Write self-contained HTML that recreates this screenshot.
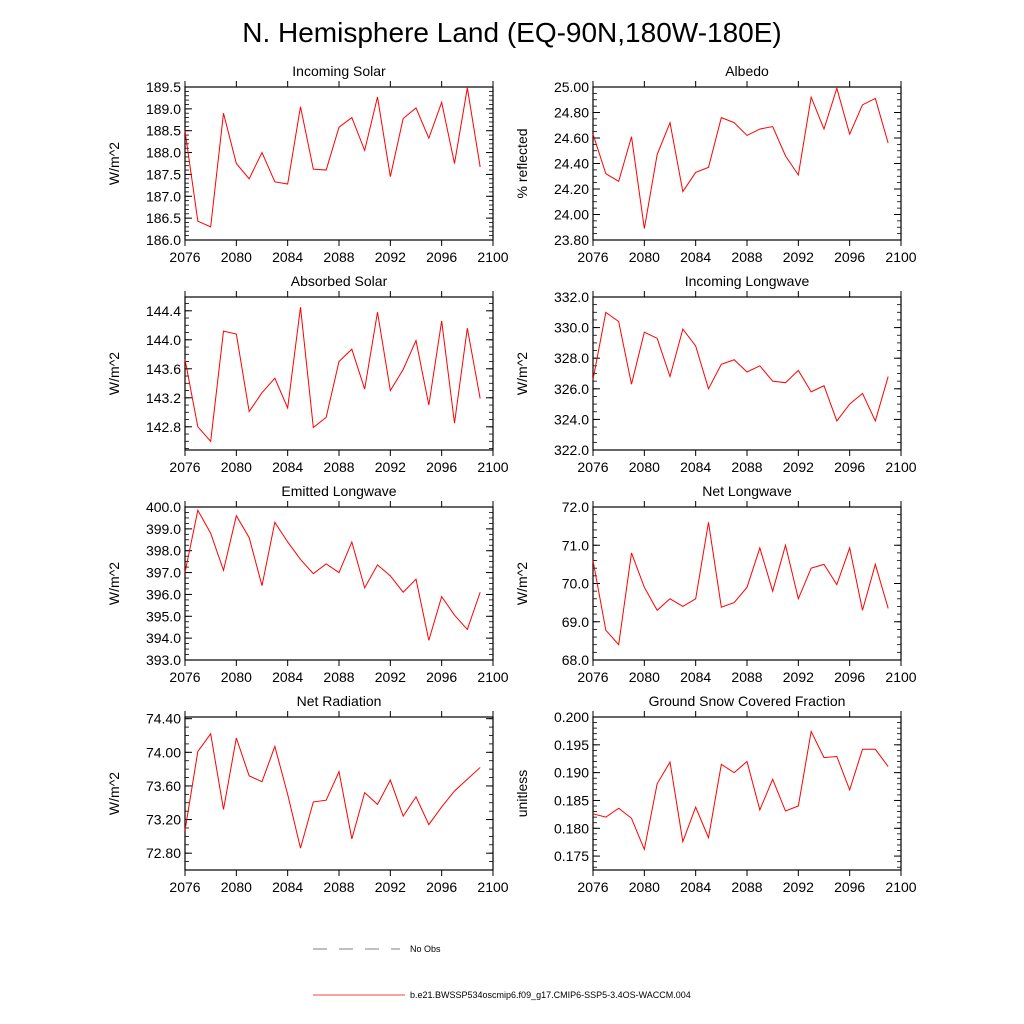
<!DOCTYPE html>
<html><head><meta charset="utf-8"><style>
body{margin:0;background:#fff;}
svg{display:block;font-family:"Liberation Sans",sans-serif;}
</style></head><body>
<svg id="chart" width="1024" height="1024" viewBox="0 0 1024 1024">
<text x="512" y="42" font-size="28" text-anchor="middle">N. Hemisphere Land (EQ-90N,180W-180E)</text>
<g id="panels"></g>
<g>
<line x1="313" y1="949" x2="400" y2="949" stroke="#000" stroke-width="0.6" stroke-dasharray="14,12"/>
<text x="410" y="952" font-size="9">No Obs</text>
<line x1="313" y1="995" x2="405" y2="995" stroke="#f00" stroke-width="0.8"/>
<text x="410" y="998" font-size="9">b.e21.BWSSP534oscmip6.f09_g17.CMIP6-SSP5-3.4OS-WACCM.004</text>
</g>
</svg>
<script>
const years = [2076,2077,2078,2079,2080,2081,2082,2083,2084,2085,2086,2087,2088,2089,2090,2091,2092,2093,2094,2095,2096,2097,2098,2099];
const xTicks = [2076,2080,2084,2088,2092,2096,2100];
const incomingSolar = [188.5,186.43,186.3,188.9,187.75,187.4,188.0,187.33,187.28,189.05,187.62,187.6,188.58,188.8,188.05,189.27,187.45,188.78,189.02,188.33,189.15,187.75,189.48,187.67];
const albedo = [24.63,24.32,24.26,24.61,23.89,24.47,24.72,24.18,24.33,24.37,24.76,24.72,24.62,24.67,24.69,24.46,24.31,24.92,24.67,24.99,24.63,24.86,24.91,24.56];
const absorbedSolar = [143.73,142.8,142.6,144.12,144.08,143.01,143.27,143.47,143.06,144.45,142.79,142.93,143.7,143.87,143.32,144.38,143.3,143.59,143.99,143.1,144.26,142.85,144.16,143.19];
const incomingLongwave = [326.6,331.0,330.4,326.3,329.7,329.3,326.8,329.9,328.8,326.0,327.6,327.9,327.1,327.5,326.5,326.4,327.2,325.8,326.2,323.9,325.0,325.7,323.9,326.8];
const emittedLongwave = [397.0,399.85,398.8,397.1,399.6,398.6,396.4,399.3,398.4,397.6,396.95,397.4,397.0,398.4,396.3,397.35,396.85,396.1,396.7,393.9,395.9,395.05,394.4,396.1];
const netLongwave = [70.6,68.78,68.4,70.8,69.9,69.3,69.6,69.4,69.6,71.6,69.38,69.5,69.9,70.93,69.8,71.0,69.6,70.4,70.5,69.97,70.93,69.3,70.5,69.35];
const netRadiation = [73.07,74.01,74.22,73.32,74.17,73.72,73.65,74.07,73.5,72.86,73.41,73.43,73.77,72.97,73.52,73.38,73.67,73.24,73.47,73.14,73.35,73.54,73.68,73.82];
const snowFraction = [0.1826,0.1820,0.1836,0.1818,0.1762,0.1880,0.1919,0.1776,0.1838,0.1783,0.1915,0.1900,0.1920,0.1833,0.1888,0.1831,0.1840,0.1974,0.1927,0.1929,0.1869,0.1942,0.1942,0.1911];

const panels = [
 {name:'incoming-solar',title:'Incoming Solar',ylab:'W/m^2',data:incomingSolar,col:0,row:0,min:186.0,max:189.5,step:0.5,minor:0.1,dec:1},
 {name:'albedo',title:'Albedo',ylab:'% reflected',data:albedo,col:1,row:0,min:23.8,max:25.0,step:0.2,minor:0.05,dec:2},
 {name:'absorbed-solar',title:'Absorbed Solar',ylab:'W/m^2',data:absorbedSolar,col:0,row:1,min:142.48,max:144.59,step:0.4,minor:0.1,dec:1,t0:142.8},
 {name:'incoming-longwave',title:'Incoming Longwave',ylab:'W/m^2',data:incomingLongwave,col:1,row:1,min:322,max:332,step:2,minor:0.5,dec:1},
 {name:'emitted-longwave',title:'Emitted Longwave',ylab:'W/m^2',data:emittedLongwave,col:0,row:2,min:393,max:400,step:1,minor:0.25,dec:1},
 {name:'net-longwave',title:'Net Longwave',ylab:'W/m^2',data:netLongwave,col:1,row:2,min:68,max:72,step:1,minor:0.2,dec:1},
 {name:'net-radiation',title:'Net Radiation',ylab:'W/m^2',data:netRadiation,col:0,row:3,min:72.6,max:74.42,step:0.4,minor:0.1,dec:2,t0:72.8},
 {name:'ground-snow-covered-fraction',title:'Ground Snow Covered Fraction',ylab:'unitless',data:snowFraction,col:1,row:3,min:0.1725,max:0.2,step:0.005,minor:0.001,dec:3,t0:0.175}
];
const NS='http://www.w3.org/2000/svg';
const root=document.getElementById('panels');
function mk(tag,attrs,parent){const e=document.createElementNS(NS,tag);for(const k in attrs)e.setAttribute(k,attrs[k]);parent.appendChild(e);return e;}
panels.forEach(p=>{
 const L=p.col?593:185, R=L+308, T=87+p.row*210, B=T+153;
 const g=mk('g',{},root);
 
 
 const xs=v=>L+(v-2076)*(R-L)/24;
 const ys=v=>B-(v-p.min)*(B-T)/(p.max-p.min);
 const t0=p.t0!==undefined?p.t0:p.min;
 for(let v=t0-Math.floor((t0-p.min)/p.minor)*p.minor; v<=p.max+1e-9; v+=p.minor){
  const y=ys(v);
  mk('line',{x1:L,x2:L+4,y1:y,y2:y,stroke:'#000','stroke-width':0.8},g);
  mk('line',{x1:R,x2:R-4,y1:y,y2:y,stroke:'#000','stroke-width':0.8},g);
 }
 for(let v=t0; v<=p.max+1e-9; v+=p.step){
  const y=ys(v);
  mk('line',{x1:L,x2:L+7,y1:y,y2:y,stroke:'#000','stroke-width':1},g);
  mk('line',{x1:R,x2:R-7,y1:y,y2:y,stroke:'#000','stroke-width':1},g);
  const t=mk('text',{x:L-4,y:y+5,'font-size':14,'text-anchor':'end'},g);
  
  
  t.textContent=v.toFixed(p.dec);
 }
 xTicks.forEach(yr=>{
  const x=xs(yr);
  mk('line',{x1:x,x2:x,y1:B,y2:B+6,stroke:'#000','stroke-width':1},g);
  mk('line',{x1:x,x2:x,y1:T,y2:T-6,stroke:'#000','stroke-width':1},g);
  const t=mk('text',{x:x,y:B+22,'font-size':14,'text-anchor':'middle'},g);
  
  
  t.textContent=yr;
 });
 const fr=mk('rect',{x:L,y:T,width:R-L,height:B-T,fill:'none',stroke:'#000','stroke-width':1.2},g);
 
 
 const pts=p.data.map((v,i)=>xs(years[i])+','+ys(v)).join(' ');
 const pl=mk('polyline',{points:pts,fill:'none',stroke:'#f00','stroke-width':1},g);
 
 
 const tt=mk('text',{x:(L+R)/2,y:T-11,'font-size':14,'text-anchor':'middle'},g);
 
 
 tt.textContent=p.title;
 const yl=mk('text',{x:0,y:0,'font-size':14,'text-anchor':'middle',transform:`translate(${L-66},${(T+B)/2}) rotate(-90)`},g);
 
 
 yl.textContent=p.ylab;
});
</script>
</body></html>
